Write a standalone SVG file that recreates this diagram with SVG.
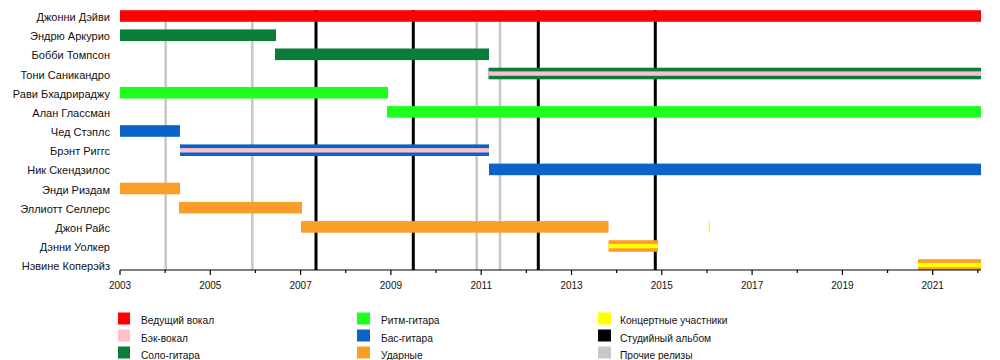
<svg xmlns="http://www.w3.org/2000/svg" width="1000" height="360" viewBox="0 0 1000 360">
<style>
text{font-family:"Liberation Sans",Arial,sans-serif;fill:#111}
.nm{font-size:11px;text-anchor:end}
.yr{font-size:10px;text-anchor:middle}
.lg{font-size:10.2px}
.red{fill:#ff0000}.pink{fill:#ffc0cb}.grn{fill:#0b7d3b}.lime{fill:#1eff1e}.blue{fill:#0a64c8}.org{fill:#fa9e28}.yel{fill:#ffff00}.blk{fill:#000}.gry{fill:#c8c8c8}
.rel-o{stroke:#c8c8c8;stroke-width:2.6}
.rel-s{stroke:#000;stroke-width:3}
.ax{stroke:#000;stroke-width:1.2;fill:none}
</style>
<rect width="1000" height="360" fill="#fff"/>
<g id="connectors">
<line class="rel-o" x1="165.7" y1="10" x2="165.7" y2="270"/>
<line class="rel-o" x1="252.3" y1="10" x2="252.3" y2="270"/>
<line class="rel-o" x1="476.7" y1="10" x2="476.7" y2="270"/>
<line class="rel-o" x1="500" y1="10" x2="500" y2="270"/>
<line class="rel-s" x1="316" y1="10" x2="316" y2="270"/>
<line class="rel-s" x1="413.3" y1="10" x2="413.3" y2="270"/>
<line class="rel-s" x1="538.3" y1="10" x2="538.3" y2="270"/>
<line class="rel-s" x1="655.3" y1="10" x2="655.3" y2="270"/>
</g>
<g id="m0"><text class="nm" x="110" y="21">Джонни Дэйви</text><rect class="red" x="120" y="10.2" width="861" height="11.6"/></g>
<g id="m1"><text class="nm" x="110" y="40.2">Эндрю Аркурио</text><rect class="grn" x="120" y="29.4" width="156" height="11.6"/></g>
<g id="m2"><text class="nm" x="110" y="59.3">Бобби Томпсон</text><rect class="grn" x="275" y="48.5" width="214" height="11.6"/></g>
<g id="m3"><text class="nm" x="110" y="78.5">Тони Саникандро</text><rect class="grn" x="488.5" y="67.7" width="492.5" height="11.6"/><rect class="pink" x="488.5" y="71.4" width="492.5" height="4.4"/></g>
<g id="m4"><text class="nm" x="110" y="97.7">Рави Бхадрираджу</text><rect class="lime" x="120" y="86.9" width="268" height="11.6"/></g>
<g id="m5"><text class="nm" x="110" y="116.9">Алан Глассман</text><rect class="lime" x="387" y="106.1" width="594" height="11.6"/></g>
<g id="m6"><text class="nm" x="110" y="136">Чед Стэплс</text><rect class="blue" x="120" y="125.2" width="60" height="11.6"/></g>
<g id="m7"><text class="nm" x="110" y="155.2">Брэнт Риггс</text><rect class="blue" x="180" y="144.4" width="309" height="11.6"/><rect class="pink" x="180" y="148.1" width="309" height="4.4"/></g>
<g id="m8"><text class="nm" x="110" y="174.4">Ник Скендзилос</text><rect class="blue" x="489" y="163.6" width="492" height="11.6"/></g>
<g id="m9"><text class="nm" x="110" y="193.5">Энди Риздам</text><rect class="org" x="120" y="182.7" width="60" height="11.6"/></g>
<g id="m10"><text class="nm" x="110" y="212.7">Эллиотт Селлерс</text><rect class="org" x="179" y="201.9" width="123" height="11.6"/></g>
<g id="m11"><text class="nm" x="110" y="231.9">Джон Райс</text><rect class="org" x="301" y="221.1" width="307.5" height="11.6"/><rect class="yel" x="708.6" y="221.1" width="1.4" height="11"/></g>
<g id="m12"><text class="nm" x="110" y="251">Дэнни Уолкер</text><rect class="org" x="608.5" y="240.2" width="49.5" height="11.6"/><rect class="yel" x="608.5" y="243.9" width="49.5" height="4.4"/></g>
<g id="m13"><text class="nm" x="110" y="270.2">Нэвине Коперэйз</text><rect class="org" x="918" y="259.2" width="63" height="10.8"/><rect class="yel" x="918" y="262.9" width="63" height="4.4"/></g>
<g id="axis">
<path class="ax" d="M120 270H981M120 270v5M165.15 270v3M210.3 270v5M255.45 270v3M300.6 270v5M345.75 270v3M390.9 270v5M436.05 270v3M481.2 270v5M526.35 270v3M571.5 270v5M616.65 270v3M661.8 270v5M706.95 270v3M752.1 270v5M797.25 270v3M842.4 270v5M887.55 270v3M932.7 270v5M977.85 270v3"/>
<text class="yr" x="120" y="289">2003</text>
<text class="yr" x="210.3" y="289">2005</text>
<text class="yr" x="300.6" y="289">2007</text>
<text class="yr" x="390.9" y="289">2009</text>
<text class="yr" x="481.2" y="289">2011</text>
<text class="yr" x="571.5" y="289">2013</text>
<text class="yr" x="661.8" y="289">2015</text>
<text class="yr" x="752.1" y="289">2017</text>
<text class="yr" x="842.4" y="289">2019</text>
<text class="yr" x="932.7" y="289">2021</text>
</g>
<g id="legend">
<rect class="red" x="118" y="312.5" width="12" height="12"/><text class="lg" x="141" y="324">Ведущий вокал</text>
<rect class="pink" x="118" y="329.5" width="12" height="12"/><text class="lg" x="141" y="341.5">Бэк-вокал</text>
<rect class="grn" x="118" y="346.5" width="12" height="12"/><text class="lg" x="141" y="358.5">Соло-гитара</text>
<rect class="lime" x="357" y="312.5" width="13" height="12"/><text class="lg" x="381" y="324">Ритм-гитара</text>
<rect class="blue" x="357" y="329.5" width="13" height="12"/><text class="lg" x="381" y="341.5">Бас-гитара</text>
<rect class="org" x="357" y="346.5" width="13" height="12"/><text class="lg" x="381" y="358.5">Ударные</text>
<rect class="yel" x="598" y="312.5" width="13" height="12"/><text class="lg" x="620" y="324">Концертные участники</text>
<rect class="blk" x="598" y="329.5" width="13" height="12"/><text class="lg" x="620" y="341.5">Студийный альбом</text>
<rect class="gry" x="598" y="346.5" width="13" height="12"/><text class="lg" x="620" y="358.5">Прочие релизы</text>
</g>
</svg>
